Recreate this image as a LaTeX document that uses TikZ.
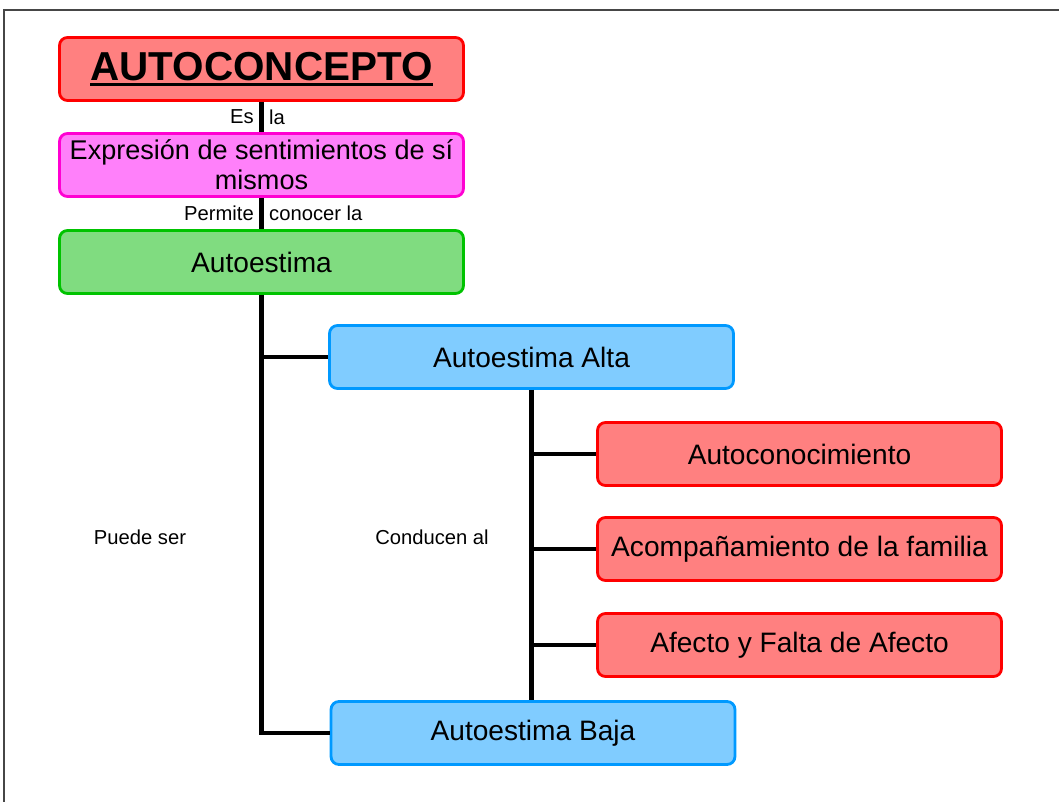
\documentclass[tikz,border=0pt]{standalone}
\usepackage{fontspec}
\setmainfont{Liberation Sans}
\usetikzlibrary{positioning}
\definecolor{salmonfill}{RGB}{255,128,128}
\definecolor{salmonline}{RGB}{255,0,0}
\definecolor{pinkfill}{RGB}{255,128,250}
\definecolor{pinkline}{RGB}{255,0,210}
\definecolor{greenfill}{RGB}{128,220,128}
\definecolor{greenline}{RGB}{0,195,0}
\definecolor{bluefill}{RGB}{128,204,255}
\definecolor{blueline}{RGB}{0,153,255}
\definecolor{framegray}{RGB}{70,70,70}

\begin{document}
\begin{tikzpicture}[x=0.02cm, y=-0.02cm,
  box/.style={draw, line width=1.6pt, rounded corners=4.5pt, minimum width=8.08cm,
    minimum height=1.26cm, inner xsep=1pt, align=center, font=\fontsize{16}{17}\selectfont},
  redbox/.style={box, fill=salmonfill, draw=salmonline},
  pinkbox/.style={box, fill=pinkfill, draw=pinkline},
  greenbox/.style={box, fill=greenfill, draw=greenline},
  bluebox/.style={box, fill=bluefill, draw=blueline},
  link/.style={line width=2.8pt},
  lbl/.style={font=\fontsize{11.5}{13}\selectfont, inner ysep=1.5pt, inner xsep=3pt}]
\useasboundingbox (0,0) rectangle (1059,802);

% Frame
\draw[framegray, line width=1.2pt] (1059,10) -- (4,10) -- (4,802);

% Main column
\node[redbox, font=\fontsize{23}{26}\selectfont\bfseries] (concepto) at (261.5,69)
  {\vtop{\hbox{AUTOCONCEPTO}\kern1.5pt\hrule height 1.8pt}};
\node[pinkbox, font=\fontsize{15.4}{17}\selectfont] (expresion) at (261.5,165)
  {Expresión de sentimientos de sí\\mismos};
\node[greenbox] (autoestima) at (261.5,262) {Autoestima};

% Kinds
\node[bluebox] (alta) at (531.5,357) {Autoestima Alta};
\node[bluebox] (baja) at (533,733) {Autoestima Baja};

% Consequences
\node[redbox] (autocon) at (799.5,454) {Autoconocimiento};
\node[redbox] (familia) at (799.5,549) {Acompañamiento de la familia};
\node[redbox] (afecto) at (799.5,645) {Afecto y Falta de Afecto};

% Connectors
\draw[link] (concepto) -- (expresion) node[lbl, midway, left] {Es} node[lbl, midway, right] {la};
\draw[link] (expresion) -- (autoestima) node[lbl, midway, left] {Permite} node[lbl, midway, right] {conocer la};
\draw[link] (autoestima.south) |- (baja.west);
\draw[link] (autoestima.south |- alta.west) -- (alta.west);
\draw[link] (alta.south) -- (alta.south |- baja.north);
\foreach \n in {autocon, familia, afecto}
  \draw[link] (alta.south |- \n.west) -- (\n.west);

% Side labels
\node[lbl] (puede) at (140,537) {Puede ser};
\node[lbl] (conducen) at (432,537) {Conducen al};
\end{tikzpicture}
\end{document}
